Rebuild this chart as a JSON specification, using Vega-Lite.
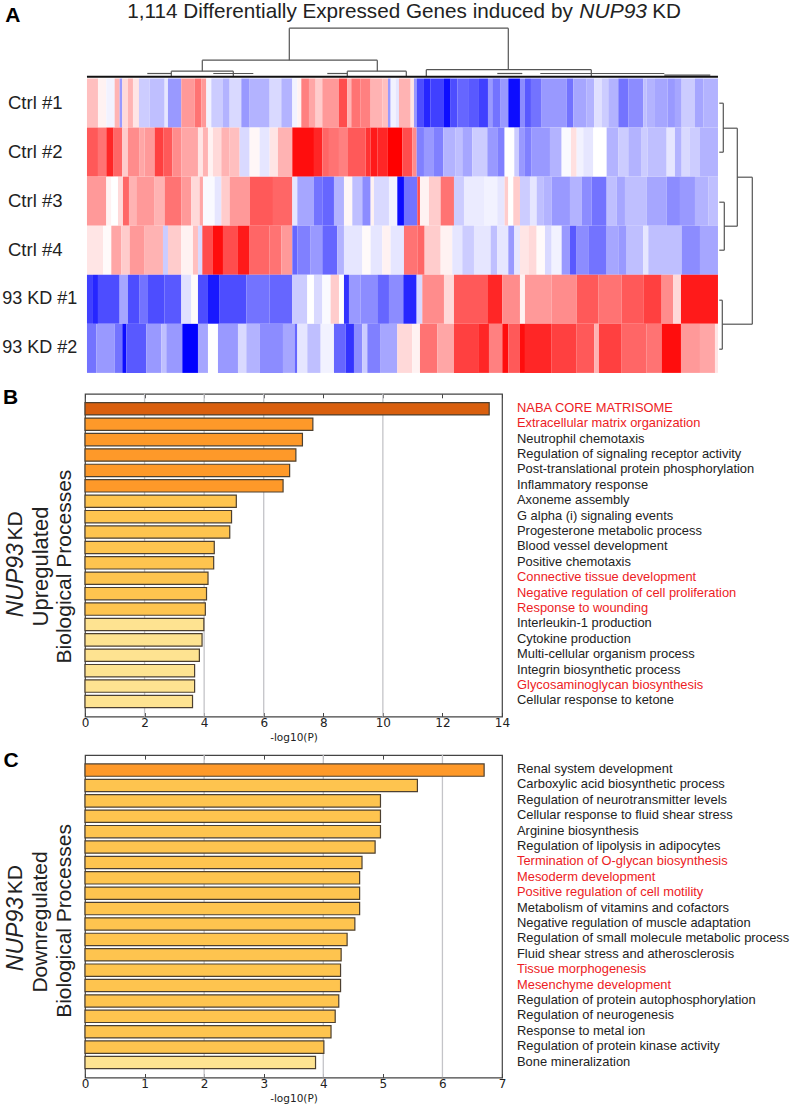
{"$schema":"https://vega.github.io/schema/vega-lite/v6.json","background":"white","padding":{"left":2,"top":0.5,"right":0,"bottom":0},"bounds":"flush","spacing":38.3,"config":{"font":"Liberation Sans","axis":{"labelFont":"DejaVu Sans","titleFont":"DejaVu Sans"}},"vconcat":[
{"width":633,"height":276.7,"view":{"stroke":null},"resolve":{"scale":{"y":"independent"}},"layer":[
{"data":{"values":[
{"sample":"Ctrl #1","from":2,"to":35,"z":0.25},{"sample":"Ctrl #1","from":35,"to":60,"z":0.05},{"sample":"Ctrl #1","from":60,"to":85,"z":-0.05},{"sample":"Ctrl #1","from":85,"to":100,"z":0.3},{"sample":"Ctrl #1","from":100,"to":108,"z":-0.4},{"sample":"Ctrl #1","from":108,"to":125,"z":0.15},{"sample":"Ctrl #1","from":125,"to":140,"z":0.3},{"sample":"Ctrl #1","from":140,"to":158,"z":0.1},{"sample":"Ctrl #1","from":158,"to":190,"z":-0.2},{"sample":"Ctrl #1","from":190,"to":235,"z":-0.25},{"sample":"Ctrl #1","from":235,"to":245,"z":-0.1},{"sample":"Ctrl #1","from":245,"to":285,"z":-0.4},{"sample":"Ctrl #1","from":285,"to":325,"z":0.4},{"sample":"Ctrl #1","from":325,"to":345,"z":0.55},{"sample":"Ctrl #1","from":345,"to":360,"z":0.4},{"sample":"Ctrl #1","from":360,"to":375,"z":-0.05},{"sample":"Ctrl #1","from":375,"to":410,"z":-0.2},{"sample":"Ctrl #1","from":410,"to":430,"z":-0.3},{"sample":"Ctrl #1","from":430,"to":465,"z":-0.15},{"sample":"Ctrl #1","from":465,"to":490,"z":-0.4},{"sample":"Ctrl #1","from":490,"to":550,"z":-0.3},{"sample":"Ctrl #1","from":550,"to":585,"z":-0.15},{"sample":"Ctrl #1","from":585,"to":618,"z":-0.3},{"sample":"Ctrl #1","from":618,"to":633,"z":-0.05},
{"sample":"Ctrl #1","from":633,"to":645,"z":0.05},{"sample":"Ctrl #1","from":645,"to":668,"z":0.5},{"sample":"Ctrl #1","from":668,"to":688,"z":0.35},{"sample":"Ctrl #1","from":688,"to":708,"z":0.2},{"sample":"Ctrl #1","from":708,"to":758,"z":0.4},{"sample":"Ctrl #1","from":758,"to":783,"z":0.7},{"sample":"Ctrl #1","from":783,"to":795,"z":0.3},{"sample":"Ctrl #1","from":795,"to":823,"z":0.55},{"sample":"Ctrl #1","from":823,"to":853,"z":0.5},{"sample":"Ctrl #1","from":853,"to":888,"z":0.3},{"sample":"Ctrl #1","from":888,"to":905,"z":0.25},{"sample":"Ctrl #1","from":905,"to":913,"z":-0.4},{"sample":"Ctrl #1","from":913,"to":928,"z":-0.05},{"sample":"Ctrl #1","from":928,"to":938,"z":-0.1},{"sample":"Ctrl #1","from":938,"to":973,"z":0.3},{"sample":"Ctrl #1","from":973,"to":983,"z":0.1},{"sample":"Ctrl #1","from":983,"to":991,"z":-0.4},{"sample":"Ctrl #1","from":991,"to":1013,"z":-0.7},{"sample":"Ctrl #1","from":1013,"to":1033,"z":-0.85},{"sample":"Ctrl #1","from":1033,"to":1073,"z":-0.75},{"sample":"Ctrl #1","from":1073,"to":1093,"z":-0.95},{"sample":"Ctrl #1","from":1093,"to":1113,"z":-0.7},{"sample":"Ctrl #1","from":1113,"to":1148,"z":-0.6},{"sample":"Ctrl #1","from":1148,"to":1178,"z":-0.65},{"sample":"Ctrl #1","from":1178,"to":1205,"z":-0.75},{"sample":"Ctrl #1","from":1205,"to":1218,"z":-0.4},{"sample":"Ctrl #1","from":1218,"to":1243,"z":-0.55},{"sample":"Ctrl #1","from":1243,"to":1266,"z":-0.4},
{"sample":"Ctrl #1","from":1266,"to":1301,"z":-0.95},{"sample":"Ctrl #1","from":1301,"to":1316,"z":-0.45},{"sample":"Ctrl #1","from":1316,"to":1334,"z":-0.65},{"sample":"Ctrl #1","from":1334,"to":1366,"z":-0.55},{"sample":"Ctrl #1","from":1366,"to":1441,"z":-0.4},{"sample":"Ctrl #1","from":1441,"to":1461,"z":-0.55},{"sample":"Ctrl #1","from":1461,"to":1501,"z":-0.35},{"sample":"Ctrl #1","from":1501,"to":1524,"z":-0.3},{"sample":"Ctrl #1","from":1524,"to":1546,"z":-0.12},{"sample":"Ctrl #1","from":1546,"to":1566,"z":-0.2},{"sample":"Ctrl #1","from":1566,"to":1596,"z":-0.3},{"sample":"Ctrl #1","from":1596,"to":1626,"z":-0.55},{"sample":"Ctrl #1","from":1626,"to":1671,"z":-0.45},{"sample":"Ctrl #1","from":1671,"to":1681,"z":-0.25},{"sample":"Ctrl #1","from":1681,"to":1706,"z":-0.3},{"sample":"Ctrl #1","from":1706,"to":1744,"z":-0.35},{"sample":"Ctrl #1","from":1744,"to":1766,"z":-0.4},{"sample":"Ctrl #1","from":1766,"to":1786,"z":-0.35},{"sample":"Ctrl #1","from":1786,"to":1826,"z":-0.2},{"sample":"Ctrl #1","from":1826,"to":1851,"z":-0.35},{"sample":"Ctrl #1","from":1851,"to":1895,"z":-0.3},
{"sample":"Ctrl #2","from":2,"to":35,"z":0.65},{"sample":"Ctrl #2","from":35,"to":60,"z":0.55},{"sample":"Ctrl #2","from":60,"to":82,"z":0.85},{"sample":"Ctrl #2","from":82,"to":108,"z":0.6},{"sample":"Ctrl #2","from":108,"to":125,"z":0.2},{"sample":"Ctrl #2","from":125,"to":160,"z":0.45},{"sample":"Ctrl #2","from":160,"to":175,"z":0.35},{"sample":"Ctrl #2","from":175,"to":205,"z":0.4},{"sample":"Ctrl #2","from":205,"to":232,"z":0.75},{"sample":"Ctrl #2","from":232,"to":258,"z":0.65},{"sample":"Ctrl #2","from":258,"to":285,"z":0.45},{"sample":"Ctrl #2","from":285,"to":335,"z":0.35},{"sample":"Ctrl #2","from":335,"to":350,"z":0.1},{"sample":"Ctrl #2","from":350,"to":365,"z":0.3},{"sample":"Ctrl #2","from":365,"to":380,"z":0.05},{"sample":"Ctrl #2","from":380,"to":405,"z":0.15},{"sample":"Ctrl #2","from":405,"to":430,"z":0.3},{"sample":"Ctrl #2","from":430,"to":460,"z":0.25},{"sample":"Ctrl #2","from":460,"to":490,"z":-0.15},{"sample":"Ctrl #2","from":490,"to":520,"z":0.03},{"sample":"Ctrl #2","from":520,"to":550,"z":-0.1},{"sample":"Ctrl #2","from":550,"to":575,"z":0.1},{"sample":"Ctrl #2","from":575,"to":618,"z":0.3},{"sample":"Ctrl #2","from":618,"to":683,"z":0.95},
{"sample":"Ctrl #2","from":683,"to":708,"z":0.85},{"sample":"Ctrl #2","from":708,"to":728,"z":0.6},{"sample":"Ctrl #2","from":728,"to":758,"z":0.55},{"sample":"Ctrl #2","from":758,"to":783,"z":0.5},{"sample":"Ctrl #2","from":783,"to":838,"z":0.65},{"sample":"Ctrl #2","from":838,"to":853,"z":0.8},{"sample":"Ctrl #2","from":853,"to":873,"z":0.9},{"sample":"Ctrl #2","from":873,"to":903,"z":0.85},{"sample":"Ctrl #2","from":903,"to":948,"z":1},{"sample":"Ctrl #2","from":948,"to":978,"z":0.7},{"sample":"Ctrl #2","from":978,"to":991,"z":0.45},{"sample":"Ctrl #2","from":991,"to":1013,"z":-0.5},{"sample":"Ctrl #2","from":1013,"to":1043,"z":-0.4},{"sample":"Ctrl #2","from":1043,"to":1071,"z":-0.5},{"sample":"Ctrl #2","from":1071,"to":1108,"z":-0.3},{"sample":"Ctrl #2","from":1108,"to":1128,"z":-0.25},{"sample":"Ctrl #2","from":1128,"to":1158,"z":-0.35},{"sample":"Ctrl #2","from":1158,"to":1203,"z":-0.2},{"sample":"Ctrl #2","from":1203,"to":1233,"z":-0.4},{"sample":"Ctrl #2","from":1233,"to":1255,"z":-0.5},{"sample":"Ctrl #2","from":1255,"to":1284,"z":0},
{"sample":"Ctrl #2","from":1284,"to":1298,"z":-0.2},{"sample":"Ctrl #2","from":1298,"to":1314,"z":-0.4},{"sample":"Ctrl #2","from":1314,"to":1336,"z":-0.5},{"sample":"Ctrl #2","from":1336,"to":1391,"z":-0.4},{"sample":"Ctrl #2","from":1391,"to":1426,"z":-0.3},{"sample":"Ctrl #2","from":1426,"to":1454,"z":-0.02},{"sample":"Ctrl #2","from":1454,"to":1471,"z":0.12},{"sample":"Ctrl #2","from":1471,"to":1491,"z":-0.05},{"sample":"Ctrl #2","from":1491,"to":1521,"z":-0.1},{"sample":"Ctrl #2","from":1521,"to":1561,"z":0},{"sample":"Ctrl #2","from":1561,"to":1596,"z":-0.3},{"sample":"Ctrl #2","from":1596,"to":1626,"z":-0.2},{"sample":"Ctrl #2","from":1626,"to":1666,"z":-0.3},{"sample":"Ctrl #2","from":1666,"to":1684,"z":-0.2},{"sample":"Ctrl #2","from":1684,"to":1741,"z":-0.25},{"sample":"Ctrl #2","from":1741,"to":1766,"z":-0.1},{"sample":"Ctrl #2","from":1766,"to":1786,"z":-0.3},{"sample":"Ctrl #2","from":1786,"to":1811,"z":-0.15},{"sample":"Ctrl #2","from":1811,"to":1841,"z":-0.2},{"sample":"Ctrl #2","from":1841,"to":1895,"z":-0.3},
{"sample":"Ctrl #3","from":2,"to":60,"z":0.4},{"sample":"Ctrl #3","from":60,"to":75,"z":0.05},{"sample":"Ctrl #3","from":75,"to":95,"z":0},{"sample":"Ctrl #3","from":95,"to":110,"z":0.15},{"sample":"Ctrl #3","from":110,"to":128,"z":0.6},{"sample":"Ctrl #3","from":128,"to":150,"z":0.3},{"sample":"Ctrl #3","from":150,"to":205,"z":0.4},{"sample":"Ctrl #3","from":205,"to":235,"z":0.3},{"sample":"Ctrl #3","from":235,"to":285,"z":0.55},{"sample":"Ctrl #3","from":285,"to":315,"z":0.4},{"sample":"Ctrl #3","from":315,"to":340,"z":0.15},{"sample":"Ctrl #3","from":340,"to":350,"z":0.35},{"sample":"Ctrl #3","from":350,"to":385,"z":-0.02},{"sample":"Ctrl #3","from":385,"to":405,"z":-0.1},{"sample":"Ctrl #3","from":405,"to":430,"z":0.2},{"sample":"Ctrl #3","from":430,"to":490,"z":0.4},{"sample":"Ctrl #3","from":490,"to":560,"z":0.65},{"sample":"Ctrl #3","from":560,"to":618,"z":0.6},{"sample":"Ctrl #3","from":618,"to":633,"z":-0.1},
{"sample":"Ctrl #3","from":633,"to":683,"z":-0.35},{"sample":"Ctrl #3","from":683,"to":708,"z":-0.55},{"sample":"Ctrl #3","from":708,"to":743,"z":-0.6},{"sample":"Ctrl #3","from":743,"to":773,"z":-0.3},{"sample":"Ctrl #3","from":773,"to":798,"z":0.03},{"sample":"Ctrl #3","from":798,"to":828,"z":-0.25},{"sample":"Ctrl #3","from":828,"to":853,"z":-0.45},{"sample":"Ctrl #3","from":853,"to":863,"z":0.05},{"sample":"Ctrl #3","from":863,"to":908,"z":-0.15},{"sample":"Ctrl #3","from":908,"to":933,"z":-0.05},{"sample":"Ctrl #3","from":933,"to":953,"z":-0.95},{"sample":"Ctrl #3","from":953,"to":993,"z":-0.55},{"sample":"Ctrl #3","from":993,"to":1001,"z":0.7},{"sample":"Ctrl #3","from":1001,"to":1028,"z":0.05},{"sample":"Ctrl #3","from":1028,"to":1063,"z":0.2},{"sample":"Ctrl #3","from":1063,"to":1103,"z":0.55},{"sample":"Ctrl #3","from":1103,"to":1133,"z":-0.2},{"sample":"Ctrl #3","from":1133,"to":1193,"z":-0.08},{"sample":"Ctrl #3","from":1193,"to":1233,"z":-0.05},{"sample":"Ctrl #3","from":1233,"to":1255,"z":-0.1},{"sample":"Ctrl #3","from":1255,"to":1266,"z":0.2},
{"sample":"Ctrl #3","from":1266,"to":1281,"z":0},{"sample":"Ctrl #3","from":1281,"to":1301,"z":0.2},{"sample":"Ctrl #3","from":1301,"to":1331,"z":-0.2},{"sample":"Ctrl #3","from":1331,"to":1351,"z":-0.1},{"sample":"Ctrl #3","from":1351,"to":1371,"z":-0.25},{"sample":"Ctrl #3","from":1371,"to":1396,"z":-0.3},{"sample":"Ctrl #3","from":1396,"to":1451,"z":-0.4},{"sample":"Ctrl #3","from":1451,"to":1486,"z":-0.3},{"sample":"Ctrl #3","from":1486,"to":1516,"z":-0.45},{"sample":"Ctrl #3","from":1516,"to":1561,"z":-0.55},{"sample":"Ctrl #3","from":1561,"to":1591,"z":-0.25},{"sample":"Ctrl #3","from":1591,"to":1616,"z":-0.35},{"sample":"Ctrl #3","from":1616,"to":1681,"z":-0.25},{"sample":"Ctrl #3","from":1681,"to":1741,"z":-0.35},{"sample":"Ctrl #3","from":1741,"to":1781,"z":-0.45},{"sample":"Ctrl #3","from":1781,"to":1826,"z":-0.4},{"sample":"Ctrl #3","from":1826,"to":1866,"z":-0.3},{"sample":"Ctrl #3","from":1866,"to":1895,"z":-0.25},
{"sample":"Ctrl #4","from":2,"to":50,"z":0.1},{"sample":"Ctrl #4","from":50,"to":75,"z":0.02},{"sample":"Ctrl #4","from":75,"to":105,"z":0.35},{"sample":"Ctrl #4","from":105,"to":130,"z":0.2},{"sample":"Ctrl #4","from":130,"to":175,"z":0.4},{"sample":"Ctrl #4","from":175,"to":230,"z":0.3},{"sample":"Ctrl #4","from":230,"to":245,"z":-0.2},{"sample":"Ctrl #4","from":245,"to":285,"z":0.2},{"sample":"Ctrl #4","from":285,"to":320,"z":0.05},{"sample":"Ctrl #4","from":320,"to":335,"z":0.25},{"sample":"Ctrl #4","from":335,"to":348,"z":-0.15},{"sample":"Ctrl #4","from":348,"to":380,"z":0.7},{"sample":"Ctrl #4","from":380,"to":410,"z":0.95},{"sample":"Ctrl #4","from":410,"to":455,"z":0.7},{"sample":"Ctrl #4","from":455,"to":490,"z":0.9},{"sample":"Ctrl #4","from":490,"to":550,"z":0.6},{"sample":"Ctrl #4","from":550,"to":585,"z":0.55},{"sample":"Ctrl #4","from":585,"to":618,"z":0.4},{"sample":"Ctrl #4","from":618,"to":633,"z":-0.6},
{"sample":"Ctrl #4","from":633,"to":673,"z":-0.5},{"sample":"Ctrl #4","from":673,"to":708,"z":-0.4},{"sample":"Ctrl #4","from":708,"to":753,"z":-0.6},{"sample":"Ctrl #4","from":753,"to":773,"z":-0.3},{"sample":"Ctrl #4","from":773,"to":828,"z":-0.1},{"sample":"Ctrl #4","from":828,"to":853,"z":0.02},{"sample":"Ctrl #4","from":853,"to":888,"z":-0.1},{"sample":"Ctrl #4","from":888,"to":913,"z":0.05},{"sample":"Ctrl #4","from":913,"to":953,"z":-0.1},{"sample":"Ctrl #4","from":953,"to":993,"z":0.55},{"sample":"Ctrl #4","from":993,"to":1015,"z":0.6},{"sample":"Ctrl #4","from":1015,"to":1063,"z":0.2},{"sample":"Ctrl #4","from":1063,"to":1098,"z":0.05},{"sample":"Ctrl #4","from":1098,"to":1128,"z":-0.1},{"sample":"Ctrl #4","from":1128,"to":1163,"z":-0.2},{"sample":"Ctrl #4","from":1163,"to":1213,"z":-0.1},{"sample":"Ctrl #4","from":1213,"to":1233,"z":-0.25},{"sample":"Ctrl #4","from":1233,"to":1266,"z":-0.1},
{"sample":"Ctrl #4","from":1266,"to":1284,"z":-0.4},{"sample":"Ctrl #4","from":1284,"to":1301,"z":-0.1},{"sample":"Ctrl #4","from":1301,"to":1328,"z":0.1},{"sample":"Ctrl #4","from":1328,"to":1351,"z":0.15},{"sample":"Ctrl #4","from":1351,"to":1376,"z":0.02},{"sample":"Ctrl #4","from":1376,"to":1396,"z":-0.15},{"sample":"Ctrl #4","from":1396,"to":1426,"z":-0.05},{"sample":"Ctrl #4","from":1426,"to":1451,"z":-0.4},{"sample":"Ctrl #4","from":1451,"to":1471,"z":-0.65},{"sample":"Ctrl #4","from":1471,"to":1506,"z":-0.45},{"sample":"Ctrl #4","from":1506,"to":1561,"z":-0.55},{"sample":"Ctrl #4","from":1561,"to":1596,"z":-0.35},{"sample":"Ctrl #4","from":1596,"to":1621,"z":-0.4},{"sample":"Ctrl #4","from":1621,"to":1671,"z":-0.25},{"sample":"Ctrl #4","from":1671,"to":1686,"z":-0.1},{"sample":"Ctrl #4","from":1686,"to":1786,"z":-0.25},{"sample":"Ctrl #4","from":1786,"to":1841,"z":-0.45},{"sample":"Ctrl #4","from":1841,"to":1895,"z":-0.35},
{"sample":"93 KD #1","from":2,"to":20,"z":-0.75},{"sample":"93 KD #1","from":20,"to":35,"z":-0.85},{"sample":"93 KD #1","from":35,"to":100,"z":-0.7},{"sample":"93 KD #1","from":100,"to":125,"z":-0.35},{"sample":"93 KD #1","from":125,"to":160,"z":-0.7},{"sample":"93 KD #1","from":160,"to":185,"z":-0.55},{"sample":"93 KD #1","from":185,"to":235,"z":-0.7},{"sample":"93 KD #1","from":235,"to":285,"z":-0.65},{"sample":"93 KD #1","from":285,"to":315,"z":-0.12},{"sample":"93 KD #1","from":315,"to":335,"z":0.02},{"sample":"93 KD #1","from":335,"to":365,"z":-0.7},{"sample":"93 KD #1","from":365,"to":400,"z":-0.9},{"sample":"93 KD #1","from":400,"to":480,"z":-0.7},{"sample":"93 KD #1","from":480,"to":550,"z":-0.55},{"sample":"93 KD #1","from":550,"to":618,"z":-0.6},{"sample":"93 KD #1","from":618,"to":663,"z":-0.2},
{"sample":"93 KD #1","from":663,"to":683,"z":0},{"sample":"93 KD #1","from":683,"to":708,"z":-0.15},{"sample":"93 KD #1","from":708,"to":733,"z":-0.02},{"sample":"93 KD #1","from":733,"to":758,"z":0.2},{"sample":"93 KD #1","from":758,"to":773,"z":0},{"sample":"93 KD #1","from":773,"to":788,"z":-0.8},{"sample":"93 KD #1","from":788,"to":823,"z":-0.4},{"sample":"93 KD #1","from":823,"to":873,"z":-0.45},{"sample":"93 KD #1","from":873,"to":908,"z":-0.6},{"sample":"93 KD #1","from":908,"to":951,"z":-0.45},{"sample":"93 KD #1","from":951,"to":991,"z":-0.85},{"sample":"93 KD #1","from":991,"to":1008,"z":-0.15},{"sample":"93 KD #1","from":1008,"to":1073,"z":0.45},{"sample":"93 KD #1","from":1073,"to":1103,"z":0.15},{"sample":"93 KD #1","from":1103,"to":1203,"z":0.65},{"sample":"93 KD #1","from":1203,"to":1248,"z":0.85},{"sample":"93 KD #1","from":1248,"to":1301,"z":0.45},
{"sample":"93 KD #1","from":1301,"to":1316,"z":0.05},{"sample":"93 KD #1","from":1316,"to":1396,"z":0.4},{"sample":"93 KD #1","from":1396,"to":1471,"z":0.45},{"sample":"93 KD #1","from":1471,"to":1536,"z":0.65},{"sample":"93 KD #1","from":1536,"to":1606,"z":0.55},{"sample":"93 KD #1","from":1606,"to":1671,"z":0.65},{"sample":"93 KD #1","from":1671,"to":1726,"z":0.75},{"sample":"93 KD #1","from":1726,"to":1761,"z":0.45},{"sample":"93 KD #1","from":1761,"to":1784,"z":0.15},{"sample":"93 KD #1","from":1784,"to":1895,"z":0.9},
{"sample":"93 KD #2","from":2,"to":30,"z":-0.55},{"sample":"93 KD #2","from":30,"to":85,"z":-0.4},{"sample":"93 KD #2","from":85,"to":108,"z":-0.55},{"sample":"93 KD #2","from":108,"to":120,"z":-0.95},{"sample":"93 KD #2","from":120,"to":180,"z":-0.65},{"sample":"93 KD #2","from":180,"to":225,"z":-0.4},{"sample":"93 KD #2","from":225,"to":240,"z":-0.25},{"sample":"93 KD #2","from":240,"to":288,"z":-0.4},{"sample":"93 KD #2","from":288,"to":335,"z":-1},{"sample":"93 KD #2","from":335,"to":365,"z":-0.35},{"sample":"93 KD #2","from":365,"to":395,"z":0},{"sample":"93 KD #2","from":395,"to":455,"z":-0.4},{"sample":"93 KD #2","from":455,"to":480,"z":-0.15},{"sample":"93 KD #2","from":480,"to":520,"z":-0.3},{"sample":"93 KD #2","from":520,"to":590,"z":-0.45},{"sample":"93 KD #2","from":590,"to":625,"z":-0.35},{"sample":"93 KD #2","from":625,"to":633,"z":-0.6},
{"sample":"93 KD #2","from":633,"to":663,"z":-0.1},{"sample":"93 KD #2","from":663,"to":703,"z":-0.25},{"sample":"93 KD #2","from":703,"to":743,"z":-0.05},{"sample":"93 KD #2","from":743,"to":778,"z":-0.6},{"sample":"93 KD #2","from":778,"to":803,"z":-0.8},{"sample":"93 KD #2","from":803,"to":828,"z":-0.45},{"sample":"93 KD #2","from":828,"to":843,"z":-0.2},{"sample":"93 KD #2","from":843,"to":883,"z":-0.5},{"sample":"93 KD #2","from":883,"to":933,"z":-0.35},{"sample":"93 KD #2","from":933,"to":978,"z":0.15},{"sample":"93 KD #2","from":978,"to":1001,"z":0.05},{"sample":"93 KD #2","from":1001,"to":1053,"z":0.55},{"sample":"93 KD #2","from":1053,"to":1103,"z":0.35},{"sample":"93 KD #2","from":1103,"to":1178,"z":0.75},{"sample":"93 KD #2","from":1178,"to":1208,"z":0.85},{"sample":"93 KD #2","from":1208,"to":1248,"z":0.5},{"sample":"93 KD #2","from":1248,"to":1266,"z":0.95},
{"sample":"93 KD #2","from":1266,"to":1301,"z":0.65},{"sample":"93 KD #2","from":1301,"to":1316,"z":0.95},{"sample":"93 KD #2","from":1316,"to":1396,"z":0.85},{"sample":"93 KD #2","from":1396,"to":1471,"z":0.75},{"sample":"93 KD #2","from":1471,"to":1524,"z":0.65},{"sample":"93 KD #2","from":1524,"to":1538,"z":0.3},{"sample":"93 KD #2","from":1538,"to":1606,"z":0.75},{"sample":"93 KD #2","from":1606,"to":1681,"z":0.6},{"sample":"93 KD #2","from":1681,"to":1726,"z":0.55},{"sample":"93 KD #2","from":1726,"to":1784,"z":0.95},{"sample":"93 KD #2","from":1784,"to":1841,"z":0.4},{"sample":"93 KD #2","from":1841,"to":1886,"z":0.35},{"sample":"93 KD #2","from":1886,"to":1895,"z":0.1}
]},"mark":"rect","encoding":{
"x":{"field":"from","type":"quantitative","axis":null,"scale":{"domain":[-3.9,1895.1],"nice":false,"zero":false}},"x2":{"field":"to"},
"y":{"field":"sample","type":"nominal","axis":null,"sort":null,"scale":{"domain":["Ctrl #1","Ctrl #2","Ctrl #3","Ctrl #4","93 KD #1","93 KD #2"],"range":[0,294.4],"paddingInner":0,"paddingOuter":0}},
"color":{"field":"z","type":"quantitative","legend":null,"scale":{"domain":[-1,0,1],"range":["#0000ff","#ffffff","#ff0000"],"interpolate":"rgb"}}}},
{"data":{"values":[{"sample":"Ctrl #1"},{"sample":"Ctrl #2"},{"sample":"Ctrl #3"},{"sample":"Ctrl #4"}]},"mark":{"type":"text","align":"left","baseline":"middle","fontSize":18.5,"color":"#222"},"encoding":{"x":{"datum":-235,"type":"quantitative"},"y":{"field":"sample","type":"nominal","axis":null,"sort":null,"scale":{"domain":["Ctrl #1","Ctrl #2","Ctrl #3","Ctrl #4","93 KD #1","93 KD #2"],"range":[0,294.4],"paddingInner":0,"paddingOuter":0}},"text":{"field":"sample"}}},
{"data":{"values":[{"sample":"93 KD #1"},{"sample":"93 KD #2"}]},"mark":{"type":"text","align":"left","baseline":"middle","fontSize":18,"color":"#222"},"encoding":{"x":{"datum":-252,"type":"quantitative"},"y":{"field":"sample","type":"nominal","axis":null,"sort":null,"scale":{"domain":["Ctrl #1","Ctrl #2","Ctrl #3","Ctrl #4","93 KD #1","93 KD #2"],"range":[0,294.4],"paddingInner":0,"paddingOuter":0}},"text":{"field":"sample"}}},
{"data":{"values":[
{"x":609,"x2":1266,"y":-50.3,"y2":-50.3},{"x":609,"x2":609,"y":-50.3,"y2":-18.3},{"x":348,"x2":873,"y":-18.3,"y2":-18.3},{"x":1266,"x2":1266,"y":-50.3,"y2":-8.8},{"x":1020,"x2":1515,"y":-8.8,"y2":-8.8},{"x":348,"x2":348,"y":-18.3,"y2":-7.3},{"x":255,"x2":441,"y":-7.3,"y2":-7.3},{"x":873,"x2":873,"y":-18.3,"y2":-7.3},{"x":783,"x2":960,"y":-7.3,"y2":-7.3},{"x":1020,"x2":1020,"y":-8.8,"y2":-2},{"x":1515,"x2":1515,"y":-8.8,"y2":-2},{"x":255,"x2":255,"y":-7.3,"y2":-2},{"x":441,"x2":441,"y":-7.3,"y2":-2},{"x":783,"x2":783,"y":-7.3,"y2":-2},{"x":960,"x2":960,"y":-7.3,"y2":-2},
{"x":183,"x2":255,"y":-5,"y2":-5},{"x":381,"x2":501,"y":-5,"y2":-5},{"x":723,"x2":783,"y":-5,"y2":-5},{"x":1233,"x2":1308,"y":-5,"y2":-5},{"x":1362,"x2":1734,"y":-5,"y2":-5},{"x":1734,"x2":1872,"y":-3.3,"y2":-3.3},
{"x":1899,"x2":1911,"y":24.7,"y2":24.7},{"x":1899,"x2":1911,"y":73.7,"y2":73.7},{"x":1911,"x2":1911,"y":24.7,"y2":73.7},{"x":1911,"x2":1953,"y":49.7,"y2":49.7},{"x":1899,"x2":1914,"y":123.7,"y2":123.7},{"x":1899,"x2":1914,"y":171.7,"y2":171.7},{"x":1914,"x2":1914,"y":123.7,"y2":171.7},{"x":1914,"x2":1953,"y":147.7,"y2":147.7},{"x":1953,"x2":1953,"y":49.7,"y2":147.7},{"x":1953,"x2":1998,"y":98.7,"y2":98.7},{"x":1899,"x2":1908,"y":221.7,"y2":221.7},{"x":1899,"x2":1908,"y":270.7,"y2":270.7},{"x":1908,"x2":1908,"y":221.7,"y2":270.7},{"x":1908,"x2":1998,"y":245.7,"y2":245.7},{"x":1998,"x2":1998,"y":98.7,"y2":245.7}
]},"mark":{"type":"rule","color":"#555","strokeWidth":1.2},"encoding":{"x":{"field":"x","type":"quantitative"},"x2":{"field":"x2"},"y":{"field":"y","type":"quantitative","axis":null,"scale":{"domain":[0,294.4],"range":[0,294.4],"nice":false,"zero":false}},"y2":{"field":"y2"}}},
{"data":{"values":[{"x":2,"x2":1895,"y":-1.8}]},"mark":{"type":"rule","color":"#111","strokeWidth":2},"encoding":{"x":{"field":"x","type":"quantitative"},"x2":{"field":"x2"},"y":{"field":"y","type":"quantitative","axis":null,"scale":{"domain":[0,294.4],"range":[0,294.4],"nice":false,"zero":false}}}},
{"data":{"values":[{"t":"A"}]},"mark":{"type":"text","align":"left","baseline":"middle","fontSize":21,"fontWeight":"bold","color":"#000"},"encoding":{"x":{"datum":-243,"type":"quantitative"},"y":{"datum":-63,"type":"quantitative","axis":null,"scale":{"domain":[0,294.4],"range":[0,294.4],"nice":false,"zero":false}},"text":{"field":"t"}}},
{"data":{"values":[{"t":"1,114 Differentially Expressed Genes induced by"}]},"mark":{"type":"text","align":"left","baseline":"middle","fontSize":20.7,"color":"#222"},"encoding":{"x":{"datum":123,"type":"quantitative"},"y":{"datum":-67,"type":"quantitative","axis":null,"scale":{"domain":[0,294.4],"range":[0,294.4],"nice":false,"zero":false}},"text":{"field":"t"}}},
{"data":{"values":[{"t":"NUP93"}]},"mark":{"type":"text","align":"left","baseline":"middle","fontSize":21,"fontStyle":"italic","color":"#222"},"encoding":{"x":{"datum":1479,"type":"quantitative"},"y":{"datum":-67,"type":"quantitative","axis":null,"scale":{"domain":[0,294.4],"range":[0,294.4],"nice":false,"zero":false}},"text":{"field":"t"}}},
{"data":{"values":[{"t":"KD"}]},"mark":{"type":"text","align":"left","baseline":"middle","fontSize":20.7,"color":"#222"},"encoding":{"x":{"datum":1698,"type":"quantitative"},"y":{"datum":-67,"type":"quantitative","axis":null,"scale":{"domain":[0,294.4],"range":[0,294.4],"nice":false,"zero":false}},"text":{"field":"t"}}}
]},
{"width":417,"height":322.7,"view":{"stroke":"#444","strokeWidth":1.2},"resolve":{"axis":{"x":"independent"}},"layer":[
{"data":{"values":[{"v":2},{"v":4},{"v":6},{"v":10}]},"mark":{"type":"rule","color":"#c4c4c8","strokeWidth":1.3},"encoding":{"x":{"field":"v","type":"quantitative","scale":{"domain":[0,14],"nice":false},"axis":{"orient":"top","values":[0,2,4,6,8,10,12,14],"labels":false,"domain":false,"grid":false,"title":null,"tickSize":-4,"tickColor":"#444"}}}},
{"data":{"values":[{"term":"NABA CORE MATRISOME","p":13.57},{"term":"Extracellular matrix organization","p":7.65},{"term":"Neutrophil chemotaxis","p":7.3},{"term":"Regulation of signaling receptor activity","p":7.08},{"term":"Post-translational protein phosphorylation","p":6.87},{"term":"Inflammatory response","p":6.65},{"term":"Axoneme assembly","p":5.08},{"term":"G alpha (i) signaling events","p":4.92},{"term":"Progesterone metabolic process","p":4.86},{"term":"Blood vessel development","p":4.34},{"term":"Positive chemotaxis","p":4.32},{"term":"Connective tissue development","p":4.13},{"term":"Negative regulation of cell proliferation","p":4.08},{"term":"Response to wounding","p":4.04},{"term":"Interleukin-1 production","p":3.99},{"term":"Cytokine production","p":3.93},{"term":"Multi-cellular organism process","p":3.84},{"term":"Integrin biosynthetic process","p":3.68},{"term":"Glycosaminoglycan biosynthesis","p":3.68},{"term":"Cellular response to ketone","p":3.61}]},
"mark":{"type":"bar","stroke":"#4d4030","strokeWidth":1.2},"encoding":{
"x":{"field":"p","type":"quantitative","axis":{"values":[0,2,4,6,8,10,12,14],"title":"-log10(P)","titleFontSize":10.5,"titleFontWeight":"normal","titleColor":"#222","titlePadding":4,"labelFontSize":12,"labelColor":"#222","labelPadding":5,"domain":false,"grid":false,"tickSize":-4,"tickColor":"#444","labelFlush":false}},
"y":{"field":"term","type":"nominal","sort":null,"scale":{"type":"band","paddingInner":0.2,"paddingOuter":0.574},"axis":{"orient":"right","title":null,"ticks":false,"domain":false,"labelPadding":14.5,"labelFont":"Liberation Sans","labelFontSize":12.9,"labelLimit":300,"labelOffset":-1,"labelColor":{"condition":{"test":"indexof(['NABA CORE MATRISOME','Extracellular matrix organization','Connective tissue development','Negative regulation of cell proliferation','Response to wounding','Glycosaminoglycan biosynthesis'],datum.value)>=0","value":"#ed1c24"},"value":"#222"}}},
"color":{"field":"p","type":"quantitative","legend":null,"scale":{"type":"threshold","domain":[4,6,10],"range":["#fee391","#fec44f","#fe9929","#d95f0e"]}}}},
{"data":{"values":[{"t":"B"}]},"mark":{"type":"text","align":"left","baseline":"middle","fontSize":21,"fontWeight":"bold","color":"#000","dy":-11},"encoding":{"x":{"datum":-2.75,"type":"quantitative","axis":null},"y":{"datum":"NABA CORE MATRISOME","type":"nominal"},"text":{"field":"t"}}},
{"data":{"values":[{"t":"NUP93"}]},"mark":{"type":"text","align":"left","baseline":"middle","fontSize":23,"fontStyle":"italic","angle":270,"color":"#222","dx":-8.2},"encoding":{"x":{"datum":-2.32,"type":"quantitative","axis":null},"y":{"datum":"Response to wounding","type":"nominal"},"text":{"field":"t"}}},
{"data":{"values":[{"t":"KD"}]},"mark":{"type":"text","align":"left","baseline":"middle","fontSize":21,"angle":270,"color":"#222","dx":7},"encoding":{"x":{"datum":-2.32,"type":"quantitative","axis":null},"y":{"datum":"Blood vessel development","type":"nominal"},"text":{"field":"t"}}},
{"data":{"values":[{"t":"Upregulated"}]},"mark":{"type":"text","align":"center","baseline":"middle","fontSize":22,"angle":270,"color":"#222","dx":-3.7},"encoding":{"x":{"datum":-1.48,"type":"quantitative","axis":null},"y":{"datum":"Positive chemotaxis","type":"nominal"},"text":{"field":"t"}}},
{"data":{"values":[{"t":"Biological Processes"}]},"mark":{"type":"text","align":"center","baseline":"middle","fontSize":21,"angle":270,"color":"#222","dx":-3.7},"encoding":{"x":{"datum":-0.66,"type":"quantitative","axis":null},"y":{"datum":"Positive chemotaxis","type":"nominal"},"text":{"field":"t"}}}
]},
{"width":417,"height":322.4,"view":{"stroke":"#444","strokeWidth":1.2},"resolve":{"axis":{"x":"independent"}},"layer":[
{"data":{"values":[{"v":2},{"v":4},{"v":6}]},"mark":{"type":"rule","color":"#c4c4c8","strokeWidth":1.3},"encoding":{"x":{"field":"v","type":"quantitative","scale":{"domain":[0,7],"nice":false},"axis":{"orient":"top","values":[0,1,2,3,4,5,6,7],"labels":false,"domain":false,"grid":false,"title":null,"tickSize":-4,"tickColor":"#444"}}}},
{"data":{"values":[{"term":"Renal system development","p":6.7},{"term":"Carboxylic acid biosynthetic process","p":5.58},{"term":"Regulation of neurotransmitter levels","p":4.96},{"term":"Cellular response to fluid shear stress","p":4.96},{"term":"Arginine biosynthesis","p":4.96},{"term":"Regulation of lipolysis in adipocytes","p":4.87},{"term":"Termination of O-glycan biosynthesis","p":4.65},{"term":"Mesoderm development","p":4.61},{"term":"Positive regulation of cell motility","p":4.61},{"term":"Metabolism of vitamins and cofactors","p":4.61},{"term":"Negative regulation of muscle adaptation","p":4.53},{"term":"Regulation of small molecule metabolic process","p":4.4},{"term":"Fluid shear stress and atherosclerosis","p":4.3},{"term":"Tissue morphogenesis","p":4.29},{"term":"Mesenchyme development","p":4.29},{"term":"Regulation of protein autophosphorylation","p":4.26},{"term":"Regulation of neurogenesis","p":4.2},{"term":"Response to metal ion","p":4.13},{"term":"Regulation of protein kinase activity","p":4.01},{"term":"Bone mineralization","p":3.87}]},
"mark":{"type":"bar","stroke":"#4d4030","strokeWidth":1.2},"encoding":{
"x":{"field":"p","type":"quantitative","axis":{"values":[0,1,2,3,4,5,6,7],"title":"-log10(P)","titleFontSize":10.5,"titleFontWeight":"normal","titleColor":"#222","titlePadding":4,"labelFontSize":12,"labelColor":"#222","labelPadding":5,"domain":false,"grid":false,"tickSize":-4,"tickColor":"#444","labelFlush":false}},
"y":{"field":"term","type":"nominal","sort":null,"scale":{"type":"band","paddingInner":0.2,"paddingOuter":0.574},"axis":{"orient":"right","title":null,"ticks":false,"domain":false,"labelPadding":14.5,"labelFont":"Liberation Sans","labelFontSize":12.9,"labelLimit":300,"labelOffset":-1,"labelColor":{"condition":{"test":"indexof(['Termination of O-glycan biosynthesis','Mesoderm development','Positive regulation of cell motility','Tissue morphogenesis','Mesenchyme development'],datum.value)>=0","value":"#ed1c24"},"value":"#222"}}},
"color":{"field":"p","type":"quantitative","legend":null,"scale":{"type":"threshold","domain":[4,6,10],"range":["#fee391","#fec44f","#fe9929","#d95f0e"]}}}},
{"data":{"values":[{"t":"C"}]},"mark":{"type":"text","align":"left","baseline":"middle","fontSize":21,"fontWeight":"bold","color":"#000","dy":-9},"encoding":{"x":{"datum":-1.37,"type":"quantitative","axis":null},"y":{"datum":"Renal system development","type":"nominal"},"text":{"field":"t"}}},
{"data":{"values":[{"t":"NUP93"}]},"mark":{"type":"text","align":"left","baseline":"middle","fontSize":23,"fontStyle":"italic","angle":270,"color":"#222","dx":-1},"encoding":{"x":{"datum":-1.16,"type":"quantitative","axis":null},"y":{"datum":"Tissue morphogenesis","type":"nominal"},"text":{"field":"t"}}},
{"data":{"values":[{"t":"KD"}]},"mark":{"type":"text","align":"left","baseline":"middle","fontSize":21,"angle":270,"color":"#222","dx":-1},"encoding":{"x":{"datum":-1.16,"type":"quantitative","axis":null},"y":{"datum":"Positive regulation of cell motility","type":"nominal"},"text":{"field":"t"}}},
{"data":{"values":[{"t":"Downregulated"}]},"mark":{"type":"text","align":"center","baseline":"middle","fontSize":21,"angle":270,"color":"#222","dx":2},"encoding":{"x":{"datum":-0.74,"type":"quantitative","axis":null},"y":{"datum":"Negative regulation of muscle adaptation","type":"nominal"},"text":{"field":"t"}}},
{"data":{"values":[{"t":"Biological Processes"}]},"mark":{"type":"text","align":"center","baseline":"middle","fontSize":21,"angle":270,"color":"#222","dx":3},"encoding":{"x":{"datum":-0.33,"type":"quantitative","axis":null},"y":{"datum":"Negative regulation of muscle adaptation","type":"nominal"},"text":{"field":"t"}}}
]}
]}
